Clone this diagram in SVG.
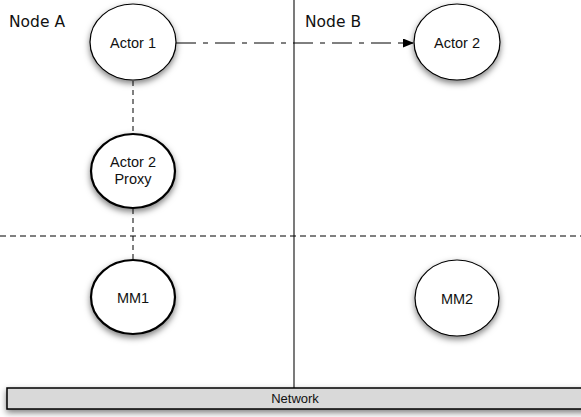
<svg xmlns="http://www.w3.org/2000/svg" width="581" height="417" viewBox="0 0 581 417">
<style>
.lbl{font-family:"Liberation Sans",Arial,sans-serif;font-size:14.5px;fill:#111;text-anchor:middle}
.hdr{font-family:"DejaVu Sans","Liberation Sans",sans-serif;font-size:15.5px;fill:#111}
.thin{fill:#fff;stroke:#000;stroke-width:1.2;filter:url(#sh)}
.thick{fill:#fff;stroke:#000;stroke-width:2.2;filter:url(#sh)}
.dash{fill:none;stroke:#000;stroke-width:1;stroke-dasharray:5 4}
</style>
<defs>
<filter id="sh" x="-30%" y="-30%" width="160%" height="170%">
<feDropShadow dx="0" dy="3" stdDeviation="3" flood-color="#000" flood-opacity="0.5"/>
</filter>
<marker id="arr" markerWidth="11" markerHeight="9" refX="10" refY="4.5" orient="auto" markerUnits="userSpaceOnUse">
<path d="M0,0 L11,4.5 L0,9 Z" fill="#000"/>
</marker>
</defs>
<rect width="581" height="417" fill="#fff"/>
<g id="partitions">
<line x1="294" y1="0" x2="294" y2="388" stroke="#222" stroke-width="1.2"/>
<line x1="0" y1="236" x2="581" y2="236" class="dash" style="stroke-dasharray:6 4"/>
<text x="9" y="27" class="hdr">Node A</text>
<text x="305" y="27" class="hdr">Node B</text>
</g>
<g id="connectors">
<line x1="176" y1="43" x2="413" y2="43" stroke="#000" stroke-width="1" stroke-dasharray="20 7 5 7" marker-end="url(#arr)"/>
<line x1="133" y1="81" x2="133" y2="134" class="dash"/>
<line x1="133" y1="209" x2="133" y2="260" class="dash"/>
</g>
<g id="actor1">
<ellipse cx="133" cy="42" rx="43" ry="38" class="thin"/>
<text x="133" y="48" class="lbl">Actor 1</text>
</g>
<g id="actor2">
<ellipse cx="457" cy="42" rx="43" ry="38" class="thin"/>
<text x="457" y="48" class="lbl">Actor 2</text>
</g>
<g id="proxy">
<ellipse cx="133" cy="171" rx="42" ry="37" class="thick"/>
<text x="133" y="167" class="lbl">Actor 2</text>
<text x="133" y="184" class="lbl">Proxy</text>
</g>
<g id="mm1">
<ellipse cx="133" cy="297" rx="42" ry="37" class="thick"/>
<text x="133" y="303" class="lbl">MM1</text>
</g>
<g id="mm2">
<ellipse cx="457" cy="298" rx="42" ry="38" class="thin"/>
<text x="457" y="304" class="lbl">MM2</text>
</g>
<g id="network">
<rect x="7" y="388" width="580" height="21" fill="#d9d9d9" stroke="#000" stroke-width="1.5" filter="url(#sh)"/>
<text x="295" y="403" class="lbl" style="font-size:13px">Network</text>
</g>
</svg>
